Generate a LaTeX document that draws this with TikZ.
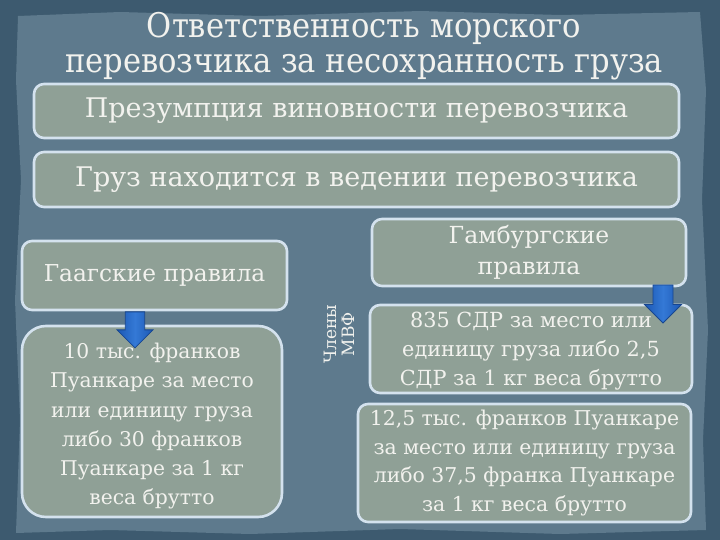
\documentclass[tikz,border=0pt]{standalone}
\usepackage{fontspec}
\setmainfont{DejaVu Serif}
\newfontfamily\titlefont{DejaVu Serif Condensed}
\usetikzlibrary{shapes.arrows}
\definecolor{bgdark}{HTML}{3D5A6F}
\definecolor{bgpanel}{HTML}{5E7A8D}
\definecolor{boxfill}{HTML}{8FA096}
\definecolor{boxedge}{HTML}{D4E2EE}
\definecolor{txt}{HTML}{F2F2EE}
\definecolor{arrowblue}{HTML}{1C58B4}
\definecolor{arrowlight}{HTML}{3479D6}
\definecolor{arrowedge}{HTML}{17468F}
\tikzset{
  box/.style={draw=boxedge, line width=2.6pt, fill=boxfill, rounded corners=10pt,
    text=txt, align=center, inner sep=2pt, font=\fontsize{27}{32}\selectfont},
  bigbox/.style={box, rounded corners=24pt},
  blockarrow/.style={single arrow, shape border rotate=270, draw=arrowedge, line width=0.8pt,
    left color=arrowblue, right color=arrowblue, middle color=arrowlight,
    inner sep=9pt, single arrow head extend=8pt, single arrow tip angle=90}
}
\begin{document}
\begin{tikzpicture}[x=1pt,y=-1pt]
\useasboundingbox (0,0) rectangle (720,540);
\fill[bgdark] (0,0) rectangle (720,540);
\fill[bgpanel] (18,16) -- (120,12) -- (260,16) -- (420,11) -- (560,15) -- (700,12)
  -- (706,90) -- (702,200) -- (708,330) -- (703,440) -- (706,530)
  -- (560,534) -- (400,529) -- (250,534) -- (110,530) -- (16,533)
  -- (20,420) -- (15,300) -- (21,180) -- (16,80) -- cycle;
\node[text=txt, align=center, font=\titlefont\fontsize{34}{35}\selectfont] (title) at (364,46)
  {Ответственность морского\\перевозчика за несохранность груза};
\node[box, minimum width=645pt, minimum height=54pt] (b1) at (356.5,111)
  {Презумпция виновности перевозчика};
\node[box, minimum width=645pt, minimum height=55pt] (b2) at (356.5,179.5)
  {Груз находится в ведении перевозчика};
\node[box, minimum width=265pt, minimum height=69pt, font=\fontsize{23.3}{30}\selectfont] (gaag) at (154.5,275.5)
  {Гаагские правила};
\node[bigbox, minimum width=260pt, minimum height=191pt, font=\fontsize{20.3}{29.3}\selectfont] (gtext) at (152,421.5)
  {\rule{0pt}{25pt}10 тыс. франков\\Пуанкаре за место\\или единицу груза\\либо 30 франков\\Пуанкаре за 1 кг\\веса брутто};
\node[box, minimum width=314pt, minimum height=67pt, font=\fontsize{23.5}{31}\selectfont] (hamb) at (529,252.5)
  {Гамбургские\\правила};
\node[box, minimum width=322pt, minimum height=88pt, font=\fontsize{20.8}{29}\selectfont] (sdr) at (531,349)
  {\rule{0pt}{19pt}835 СДР за место или\\единицу груза либо 2,5\\СДР за 1 кг веса брутто};
\node[box, minimum width=333pt, minimum height=118pt, font=\fontsize{20.4}{28.5}\selectfont] (fr) at (524.5,463)
  {12,5 тыс. франков Пуанкаре\\за место или единицу груза\\либо 37,5 франка Пуанкаре\\за 1 кг веса брутто};
\node[text=txt, rotate=90, align=center, font=\fontsize{17}{18}\selectfont] (imf) at (339,334)
  {Члены\\МВФ};
\node[blockarrow, minimum height=36pt, minimum width=36pt] (a1) at (135,325) {};
\node[blockarrow, minimum height=38pt, minimum width=37pt] (a2) at (663,299) {};
\end{tikzpicture}
\end{document}
